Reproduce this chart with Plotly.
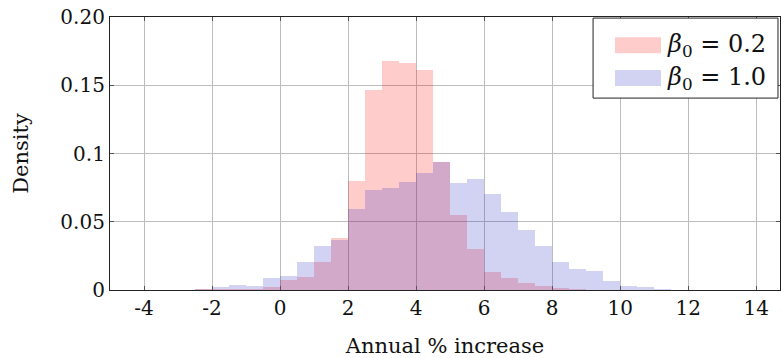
import plotly.graph_objects as go

# Histogram bins (left edges, width 0.5)
bin_left = [-4.5, -4.0, -3.5, -3.0, -2.5, -2.0, -1.5, -1.0, -0.5, 0.0, 0.5, 1.0, 1.5,
            2.0, 2.5, 3.0, 3.5, 4.0, 4.5, 5.0, 5.5, 6.0, 6.5, 7.0, 7.5, 8.0, 8.5,
            9.0, 9.5, 10.0, 10.5, 11.0, 11.5, 12.0, 12.5, 13.0]
bin_width = 0.5

# beta_0 = 0.2 (red)
density_b02 = [0.0002, 0.0002, 0.0003, 0.0003, 0.0004, 0.001, 0.0008, 0.001, 0.002, 0.0071, 0.0092, 0.0203, 0.0378,
               0.0797, 0.1468, 0.1676, 0.1664, 0.161, 0.094, 0.0552, 0.0298, 0.0132, 0.009, 0.0052, 0.0027, 0.0017, 0.0007,
               0.0003, 0.0002, 0.0001, 0.0001, 0.0, 0.0, 0.0, 0.0, 0.0]
# beta_0 = 1.0 (blue)
density_b10 = [0.0002, 0.0002, 0.0003, 0.0003, 0.0004, 0.002, 0.0035, 0.003, 0.0088, 0.0101, 0.0203, 0.032, 0.0365,
               0.059, 0.073, 0.075, 0.079, 0.086, 0.0936, 0.0784, 0.0816, 0.0706, 0.0568, 0.044, 0.0325, 0.0206, 0.0155,
               0.0138, 0.0066, 0.0032, 0.0022, 0.0004, 0.0003, 0.0003, 0.0002, 0.0002]

x_ticks = [-4, -2, 0, 2, 4, 6, 8, 10, 12, 14]
y_ticks = [0, 0.05, 0.1, 0.15, 0.2]
y_tick_text = ["0", "0.05", "0.1", "0.15", "0.20"]

labels = ["<i>β</i><sub>0</sub> = 0.2", "<i>β</i><sub>0</sub> = 1.0"]
fills = ["rgba(255,0,0,0.2)", "rgba(30,30,190,0.2)"]

centers = [b + bin_width / 2 for b in bin_left]

fig = go.Figure()
fig.add_trace(go.Bar(x=centers, y=density_b02, width=bin_width, marker=dict(color=fills[0], line=dict(width=0)),
                     name=labels[0], showlegend=False))
fig.add_trace(go.Bar(x=centers, y=density_b10, width=bin_width, marker=dict(color=fills[1], line=dict(width=0)),
                     name=labels[1], showlegend=False))

font_family = "DejaVu Serif, Liberation Serif, serif"
fig.update_layout(
    width=782, height=358,
    margin=dict(l=110, r=2, t=17, b=68),
    plot_bgcolor="white", paper_bgcolor="white",
    barmode="overlay", bargap=0,
    font=dict(family=font_family, size=20, color="#111"),
    xaxis=dict(range=[-5, 14.7], tickvals=x_ticks, ticktext=[str(t) for t in x_ticks],
               automargin=False,
               showgrid=True, gridcolor="#bdbdbd", gridwidth=1, zeroline=False,
               showline=True, linecolor="#222", linewidth=1.2, mirror="allticks",
               ticks="inside", ticklen=4, tickcolor="#555",
               title=dict(text="Annual % increase", standoff=19, font=dict(size=21)),
               tickfont=dict(size=20)),
    yaxis=dict(range=[0, 0.2], tickvals=y_ticks, ticktext=y_tick_text,
               automargin=False,
               showgrid=True, gridcolor="#bdbdbd", gridwidth=1, zeroline=False,
               showline=True, linecolor="#222", linewidth=1.2, mirror="allticks",
               ticks="inside", ticklen=4, tickcolor="#555",
               title=dict(text="Density", standoff=26, font=dict(size=21)),
               tickfont=dict(size=20)),
)

# Manual legend (box, swatches, labels)
fig.add_shape(type="rect", xref="paper", yref="paper", x0=0.721, x1=0.997, y0=0.703, y1=0.996,
              line=dict(color="#222", width=1), fillcolor="white", layer="above")
sw_y = [(0.867, 0.9256), (0.747, 0.806)]
for i, (y0, y1) in enumerate(sw_y):
    fig.add_shape(type="rect", xref="paper", yref="paper", x0=0.7537, x1=0.8224, y0=y0, y1=y1,
                  line=dict(width=0), fillcolor=fills[i], layer="above")
    fig.add_annotation(xref="paper", yref="paper", x=0.828, y=(y0 + y1) / 2, text=labels[i],
                       showarrow=False, xanchor="left", yanchor="middle", font=dict(size=24))

fig.write_html("out.html", config={"responsive": False, "displayModeBar": False},
               post_script="document.body.style.margin='0';document.body.style.padding='0';")
